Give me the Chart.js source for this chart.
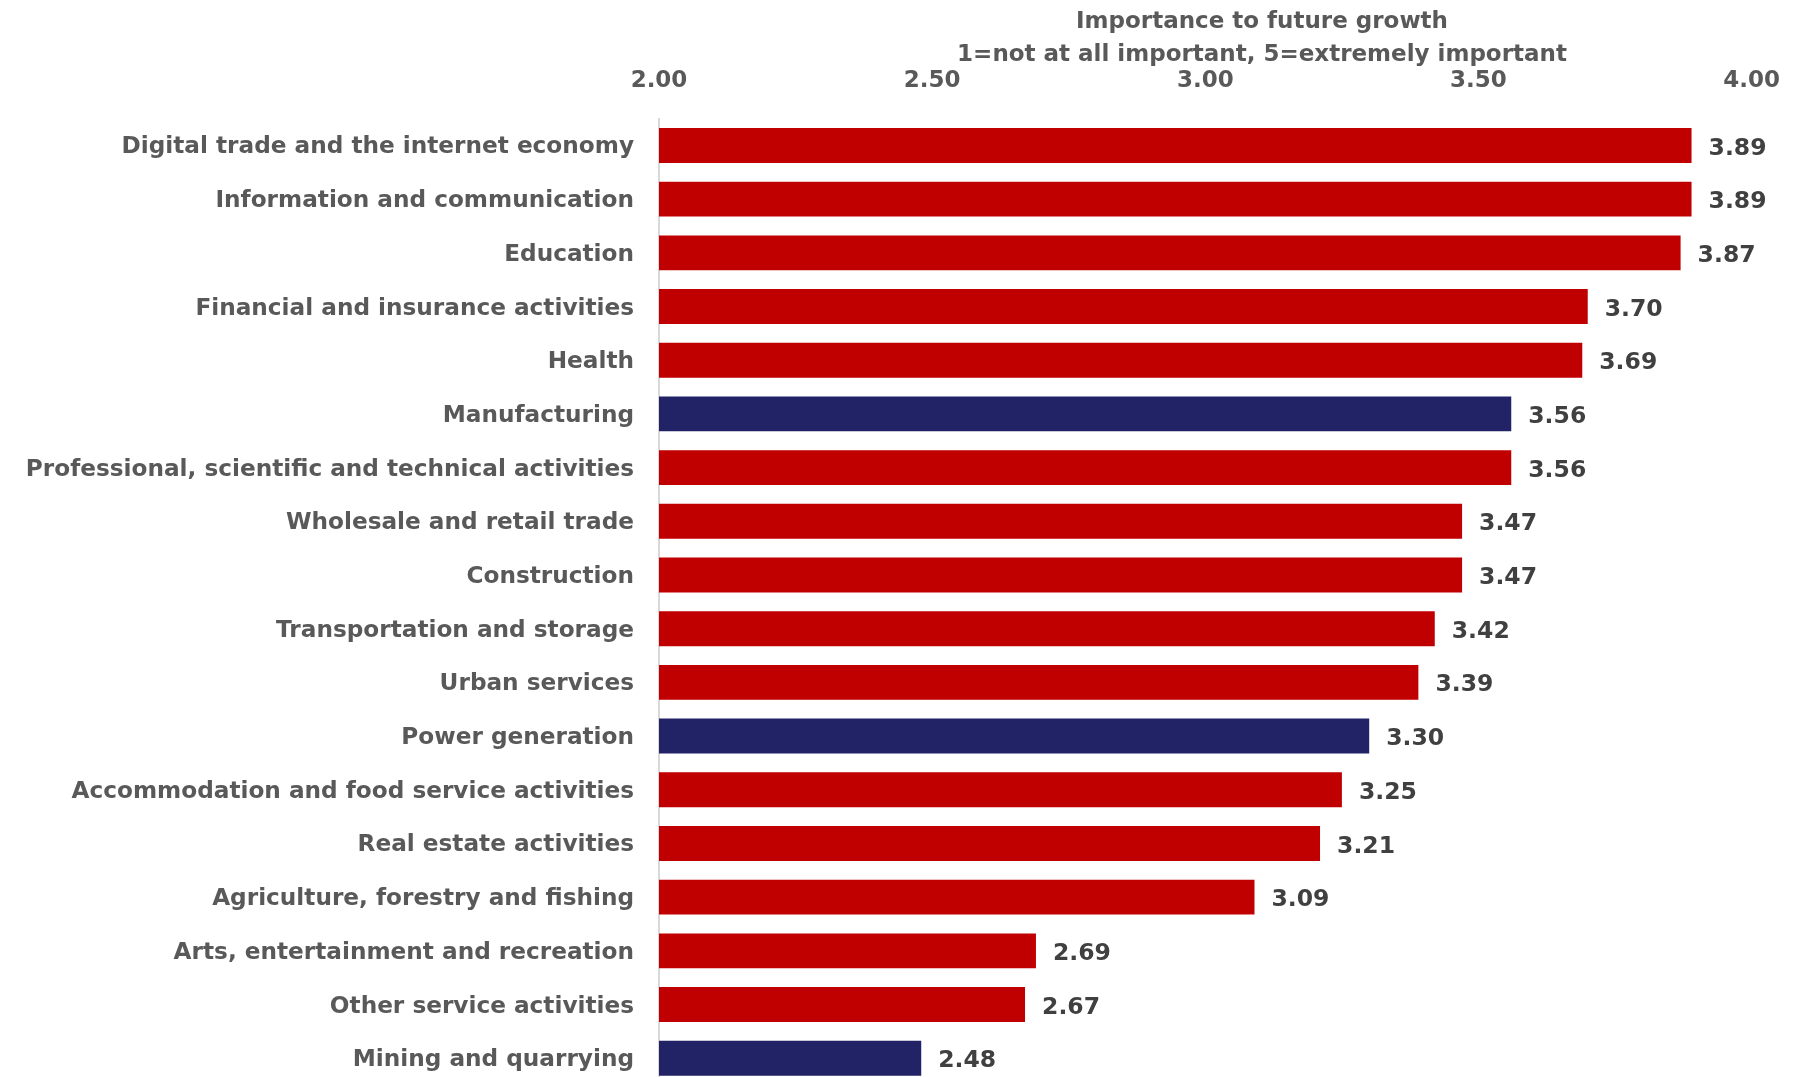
<!DOCTYPE html>
<html lang="en">
<head>
    <meta charset="UTF-8">
    <title>Importance to future growth</title>
    <style>
        html, body {
            margin: 0;
            padding: 0;
            background: #ffffff;
            overflow: hidden;
        }
        #graph {
            display: block;
            width: 1804px;
            height: 1124px;
        }
    </style>
    <script src="https://cdn.jsdelivr.net/npm/chart.js@4.4.0/dist/chart.umd.min.js"></script>
</head>
<body>
    <canvas id="graph" width="1804" height="1124"></canvas>
    <script>
        // sectors, top to bottom
        const sectors = [
            'Digital trade and the internet economy',
            'Information and communication',
            'Education',
            'Financial and insurance activities',
            'Health',
            'Manufacturing',
            'Professional, scientific and technical activities',
            'Wholesale and retail trade',
            'Construction',
            'Transportation and storage',
            'Urban services',
            'Power generation',
            'Accommodation and food service activities',
            'Real estate activities',
            'Agriculture, forestry and fishing',
            'Arts, entertainment and recreation',
            'Other service activities',
            'Mining and quarrying'
        ]
        const scores = [3.89, 3.89, 3.87, 3.70, 3.69, 3.56, 3.56, 3.47, 3.47, 3.42, 3.39, 3.30, 3.25, 3.21, 3.09, 2.69, 2.67, 2.48]
        // sectors drawn in navy
        const highlighted = ['Manufacturing', 'Power generation', 'Mining and quarrying']
        const axisTicks = [2.00, 2.50, 3.00, 3.50, 4.00]
        const titleLines = ['Importance to future growth', '1=not at all important, 5=extremely important']

        const RED = '#c00000'
        const NAVY = '#222266'
        const FONT = "'DejaVu Sans', Verdana, sans-serif"

        let barColors = sectors.map(s => highlighted.includes(s) ? NAVY : RED)

        // value labels at the end of each bar
        const valueLabels = {
            id: 'valueLabels',
            afterDatasetsDraw(chart) {
                const ctx = chart.ctx
                const meta = chart.getDatasetMeta(0)
                ctx.save()
                ctx.font = 'bold 23.5px ' + FONT
                ctx.fillStyle = '#404040'
                ctx.textAlign = 'left'
                ctx.textBaseline = 'middle'
                meta.data.forEach((bar, i) => {
                    ctx.fillText(scores[i].toFixed(2), bar.x + 17, bar.y + 3)
                })
                ctx.restore()
            }
        }

        // two line title above the axis
        const topTitle = {
            id: 'topTitle',
            afterDraw(chart) {
                const ctx = chart.ctx
                ctx.save()
                ctx.font = 'bold 23px ' + FONT
                ctx.fillStyle = '#595959'
                ctx.textAlign = 'center'
                ctx.textBaseline = 'alphabetic'
                ctx.fillText(titleLines[0], 1262, 28)
                ctx.fillText(titleLines[1], 1262, 61)
                ctx.restore()
            }
        }

        let ctx = document.getElementById('graph').getContext('2d')
        let graph = new Chart(ctx, {
            type: 'bar',
            data: {
                labels: sectors,
                datasets: [{
                    data: scores,
                    backgroundColor: barColors,
                    borderWidth: 0,
                    barPercentage: 0.65,
                    categoryPercentage: 1.0
                }]
            },
            options: {
                indexAxis: 'y',
                responsive: false,
                animation: false,
                layout: {
                    padding: { top: 43, right: 50, bottom: 5, left: 0 }
                },
                plugins: {
                    legend: { display: false },
                    title: { display: false },
                    tooltip: { enabled: false }
                },
                scales: {
                    x: {
                        position: 'top',
                        min: 2,
                        max: 4,
                        afterBuildTicks: (scale) => {
                            scale.ticks = axisTicks.map(v => ({ value: v }))
                        },
                        grid: { display: false, drawTicks: false },
                        border: { display: false },
                        ticks: {
                            padding: 24,
                            color: '#595959',
                            font: { family: FONT, size: 23, weight: 'bold' },
                            callback: (v) => Number(v).toFixed(2)
                        }
                    },
                    y: {
                        afterFit: (scale) => { scale.width = 659 },
                        grid: { display: false, drawTicks: false },
                        border: { display: true, color: '#d9d9d9', width: 2 },
                        ticks: {
                            padding: 25,
                            labelOffset: 2,
                            color: '#595959',
                            font: { family: FONT, size: 23.2, weight: 'bold' }
                        }
                    }
                }
            },
            plugins: [valueLabels, topTitle]
        })
    </script>
</body>
</html>
